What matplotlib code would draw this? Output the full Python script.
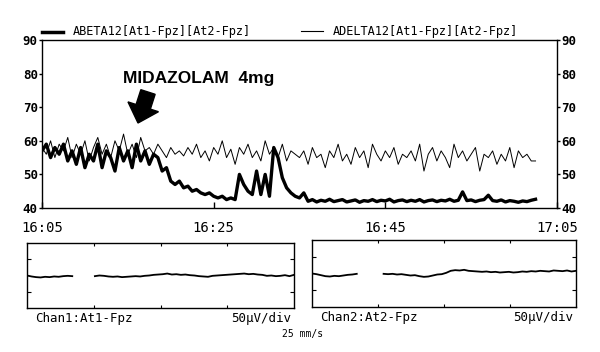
import numpy as np
import matplotlib
matplotlib.use("Agg")
import matplotlib.pyplot as plt
from matplotlib.lines import Line2D
from matplotlib.patches import FancyArrow
from matplotlib.transforms import IdentityTransform

# minutes after 16:05, one sample every half minute
minutes = np.arange(0, 58, 0.5)

abeta12 = [57, 59, 55, 58, 56, 59, 54, 57, 53, 58, 52, 56, 54, 59, 52, 57, 55, 51, 58, 54,
           57, 52, 59, 54, 57, 53, 56, 55,
           51, 52, 48, 47, 48, 46, 46.5, 45, 45.5, 44.5, 44, 44.5, 43.5, 43, 43.5, 42.5,
           43, 42.5, 50, 47, 45, 44, 51, 44, 50, 43.5, 58, 55, 49, 46, 44.5, 43.5,
           43, 44.5, 42, 42.5, 41.8, 42.3, 42, 42.6, 41.9, 42.2, 42.5, 41.8, 42.1, 42.4,
           41.7, 42.2, 42, 42.5, 41.9, 42.3, 42.1, 42.6, 41.8, 42.2, 42.4, 41.9, 42.3, 42,
           42.5, 41.8, 42.2, 42.4, 41.9, 42.3, 42.1, 42.6, 42, 42.3, 44.8, 42.2, 42.4, 41.9,
           42.3, 42.5, 43.8, 42.2, 42, 42.4, 41.8, 42.2, 42, 41.7, 42.1, 41.9, 42.3, 42.6]

adelta12 = [58, 56, 60, 55, 59, 57, 61, 55, 59, 56, 60, 54, 58, 61, 56, 59, 55, 60, 57, 62,
            56, 59, 55, 61, 57, 58, 56, 59,
            57, 55, 58, 56, 57, 55.5, 58, 56, 59, 55, 57, 54, 58, 56, 60, 55, 57.5, 53,
            58, 56, 59, 55, 57, 54, 60, 56, 58, 55, 59, 54, 57, 56,
            55, 57, 53, 58, 55, 56, 52, 57, 55, 59, 54, 56, 53, 58, 55, 57, 52, 59, 56, 54,
            57, 55, 58, 53, 56, 55, 57, 54, 59, 51, 56, 58, 54, 57, 55, 52, 59, 55, 57, 54,
            56, 58, 51, 56, 55, 57, 53, 56, 54, 58, 52, 57, 55, 56, 54, 54]

time_ticks = [0, 20, 40, 60]
time_labels = ["16:05", "16:25", "16:45", "17:05"]
y_ticks = [40, 50, 60, 70, 80, 90]

nan = np.nan
chan1 = [0, -3, -5, -6, -4, -5, -3, -4, -2, -1, -2, nan, nan, nan, nan, -2, 0, -1, -3, -4,
         -3, -5, -4, -3, -2, -3, -1, 0, 2, 3, 4, 6, 3, 4, 2, 3, 1, 0, -2, -3,
         -4, -1, 0, 1, 2, 3, 4, 5, 6, 4, 5, 3, 2, -1, 0, -2, -1, 1, -2, 2]
chan2 = [0, -2, -5, -8, -9, -7, -8, -6, -4, -3, -1, nan, nan, nan, nan, nan, -1, -2, -1, -3,
         -2, -4, -6, -5, -8, -10, -9, -6, -3, -2, 2, 8, 10, 9, 11, 8, 7, 6, 5, 6,
         4, 5, 3, 4, 5, 3, 4, 6, 5, 7, 6, 8, 7, 6, 9, 8, 7, 9, 6, 8]

mono = "DejaVu Sans Mono"

fig = plt.figure(figsize=(6, 3.52), dpi=100)
fig.patch.set_facecolor("white")

# trend plot
ax = fig.add_axes([42 / 600, 1 - 208 / 352, 515 / 600, 168 / 352])
ax.plot(minutes, adelta12, color="black", lw=0.7)
ax.plot(minutes, abeta12, color="black", lw=2.4)
ax.set_xlim(0, 60)
ax.set_ylim(40, 90)
ax.set_yticks(y_ticks)
ax.set_yticklabels([str(v) for v in y_ticks], family=mono, fontweight="bold", fontsize=9)
ax.set_xticks(time_ticks)
ax.set_xticklabels(time_labels, family=mono, fontsize=10)
ax.tick_params(axis="y", direction="out", length=2, left=True, right=True,
               labelleft=True, labelright=True, pad=1, width=1)
ax.tick_params(axis="x", direction="in", length=4, pad=9, width=1)
for s in ax.spines.values():
    s.set_linewidth(1)

ax.text(18.3, 78.5, "MIDAZOLAM  4mg", ha="center", va="center",
        family="Liberation Sans", fontweight="bold", fontsize=12.5)
# drug marker arrow, drawn in pixel units
fig.add_artist(FancyArrow(148, 260, -10, -31, width=15, head_width=32, head_length=17,
                          length_includes_head=True, color="black",
                          transform=IdentityTransform()))

# legend-like header
fig.add_artist(Line2D([42 / 600, 63 / 600], [1 - 32 / 352] * 2, color="black", lw=2.5))
fig.text(73 / 600, 1 - 32 / 352, "ABETA12[At1-Fpz][At2-Fpz]", family=mono,
         fontsize=8.6, va="center", ha="left")
fig.add_artist(Line2D([301 / 600, 323 / 600], [1 - 31 / 352] * 2, color="black", lw=0.8))
fig.text(333 / 600, 1 - 32 / 352, "ADELTA12[At1-Fpz][At2-Fpz]", family=mono,
         fontsize=8.6, va="center", ha="left")

# raw EEG panels
def eeg_panel(rect, values, chan_label):
    a = fig.add_axes(rect)
    a.plot(np.linspace(0, 1, len(values)), values, color="black", lw=1.3)
    a.set_xlim(0, 1)
    a.set_ylim(-100, 100)
    a.set_yticks([-50, 50])
    a.set_xticks([0.25, 0.5, 0.75])
    a.tick_params(axis="y", direction="in", length=3, left=True, right=True,
                  labelleft=False)
    a.tick_params(axis="x", direction="in", length=2, top=True, labelbottom=False)
    for s in a.spines.values():
        s.set_linewidth(1)
    x0 = rect[0]
    x1 = rect[0] + rect[2]
    fig.text(x0 + 8 / 600, rect[1] - 4 / 352, chan_label, family=mono, fontsize=9,
             va="top", ha="left")
    fig.text(x1 - 3 / 600, rect[1] - 4 / 352, "50\u03bcV/div", family=mono, fontsize=9,
             va="top", ha="right")

eeg_panel([27 / 600, 1 - 308 / 352, 267 / 600, 65 / 352], chan1, "Chan1:At1-Fpz")
eeg_panel([312 / 600, 1 - 307 / 352, 264 / 600, 67 / 352], chan2, "Chan2:At2-Fpz")
fig.text(303 / 600, 1 - 334 / 352, "25 mm/s", family=mono, fontsize=7,
         ha="center", va="center")

fig.savefig("out.png", dpi=100, facecolor="white")
